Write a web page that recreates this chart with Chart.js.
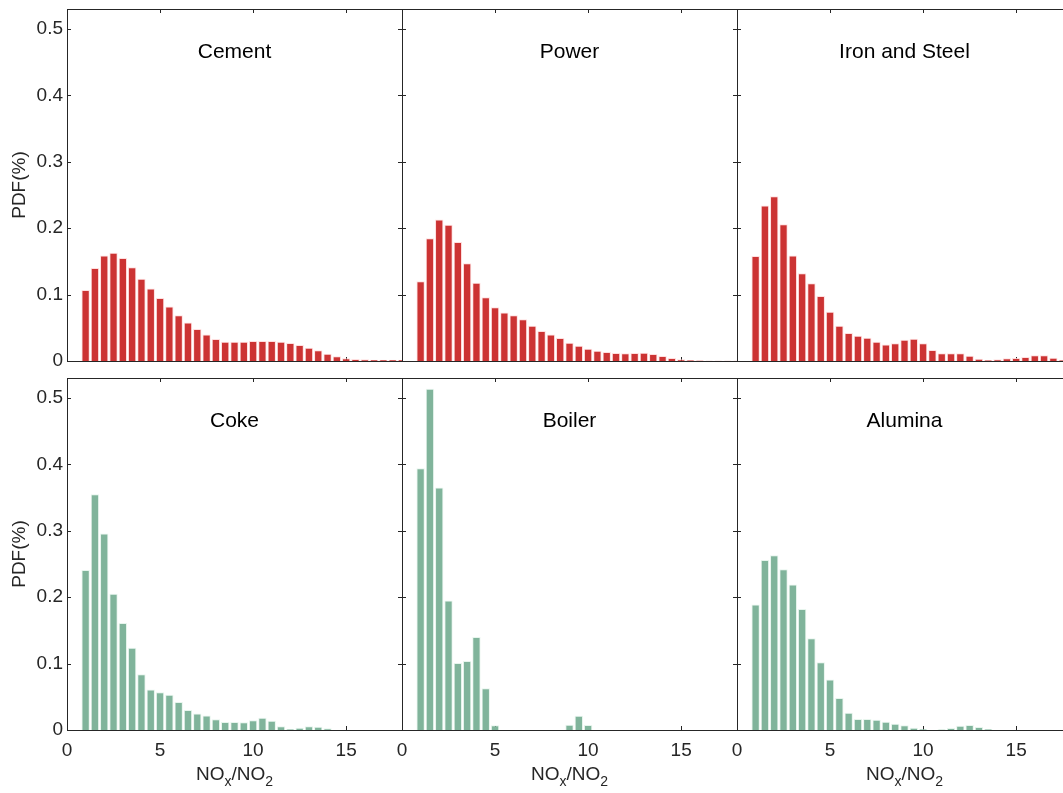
<!DOCTYPE html>
<html>
<head>
<meta charset="utf-8">
<script src="https://cdn.jsdelivr.net/npm/chart.js@4.4.1/dist/chart.umd.min.js"></script>
<style>
html, body { margin: 0; padding: 0; background: #fff; overflow: hidden; width: 1063px; height: 793px; }
canvas { position: absolute; }
</style>
</head>
<body>
<canvas id="p0"></canvas>
<canvas id="p1"></canvas>
<canvas id="p2"></canvas>
<canvas id="p3"></canvas>
<canvas id="p4"></canvas>
<canvas id="p5"></canvas>
<script>
// bin centres of the NOx/NO2 histograms (width 0.5)
const xBins = [1, 1.5, 2, 2.5, 3, 3.5, 4, 4.5, 5, 5.5, 6, 6.5, 7, 7.5, 8, 8.5, 9, 9.5, 10,
    10.5, 11, 11.5, 12, 12.5, 13, 13.5, 14, 14.5, 15, 15.5, 16, 16.5, 17, 17.5, 18];
const xTicks = [0, 5, 10, 15];
const yTicks = [0, 0.1, 0.2, 0.3, 0.4, 0.5];
const panelNames = ['Cement', 'Power', 'Iron and Steel', 'Coke', 'Boiler', 'Alumina'];

const cement = [0.107, 0.140, 0.159, 0.163, 0.155, 0.141, 0.124, 0.109, 0.095, 0.082, 0.069, 0.058,
    0.048, 0.040, 0.033, 0.029, 0.029, 0.029, 0.030, 0.030, 0.030, 0.029, 0.027, 0.024, 0.020,
    0.016, 0.011, 0.007, 0.004, 0.003, 0.0025, 0.002, 0.002, 0.002, 0.002];
const power = [0.120, 0.185, 0.213, 0.205, 0.179, 0.147, 0.118, 0.096, 0.081, 0.073, 0.069, 0.063,
    0.053, 0.045, 0.040, 0.0346, 0.0276, 0.023, 0.0186, 0.0156, 0.0136, 0.012, 0.0115, 0.012,
    0.0125, 0.0105, 0.0075, 0.0045, 0.0025, 0.0015, 0.001, 0.0005, 0.0005, 0.0005, 0.0005];
const ironSteel = [0.158, 0.234, 0.248, 0.206, 0.159, 0.132, 0.117, 0.098, 0.074, 0.053, 0.042,
    0.038, 0.035, 0.029, 0.025, 0.0266, 0.032, 0.0336, 0.0266, 0.0166, 0.0115, 0.0115, 0.0115,
    0.008, 0.0035, 0.0015, 0.0025, 0.004, 0.0045, 0.006, 0.0085, 0.0085, 0.005, 0.0015, 0];
const coke = [0.241, 0.355, 0.296, 0.205, 0.161, 0.124, 0.084, 0.061, 0.057, 0.053, 0.042, 0.030,
    0.025, 0.022, 0.016, 0.012, 0.012, 0.0115, 0.0145, 0.0186, 0.014, 0.0055, 0.0015, 0.0035,
    0.0055, 0.005, 0.0025, 0, 0, 0, 0, 0, 0, 0, 0];
const boiler = [0.394, 0.514, 0.365, 0.195, 0.101, 0.104, 0.140, 0.063, 0.007, 0, 0, 0, 0, 0, 0, 0,
    0.008, 0.0215, 0.0075, 0, 0, 0, 0, 0, 0, 0, 0, 0, 0, 0, 0, 0, 0, 0, 0];
const alumina = [0.189, 0.256, 0.263, 0.242, 0.219, 0.182, 0.138, 0.102, 0.076, 0.048, 0.026,
    0.0166, 0.0166, 0.0156, 0.0125, 0.0095, 0.007, 0.0035, 0.0015, 0, 0.001, 0.003, 0.0065,
    0.0075, 0.0045, 0.0015, 0, 0, 0, 0, 0, 0, 0, 0, 0];

const red = '#CC3333';
const green = '#80B49B';
const axisColor = '#262626';
const fontName = "'Helvetica Neue', Helvetica, 'Liberation Sans', Arial, sans-serif";

const colLeft = [67, 402, 737];
const rowTop = [9, 378];
const plotW = 335, plotH = 352;

// box around each axes with inward ticks (under the bars), then title and x label on top
const framePlugin = {
    id: 'frame',
    beforeDatasetsDraw(chart) {
        const ctx = chart.ctx;
        const a = chart.chartArea;
        const x = chart.scales.x, y = chart.scales.y;
        ctx.save();
        ctx.strokeStyle = axisColor;
        ctx.lineWidth = 1;
        ctx.beginPath();
        ctx.rect(a.left + 0.5, a.top + 0.5, a.right - a.left, a.bottom - a.top);
        for (const v of xTicks) {
            const px = Math.round(x.getPixelForValue(v)) + 0.5;
            ctx.moveTo(px, a.bottom); ctx.lineTo(px, a.bottom - 4);
            ctx.moveTo(px, a.top); ctx.lineTo(px, a.top + 4);
        }
        for (const v of yTicks) {
            const py = Math.round(y.getPixelForValue(v)) + 0.5;
            ctx.moveTo(a.left, py); ctx.lineTo(a.left + 4, py);
            ctx.moveTo(a.right, py); ctx.lineTo(a.right - 4, py);
        }
        ctx.stroke();
        ctx.restore();
    },
    afterDatasetsDraw(chart, args, opts) {
        const ctx = chart.ctx;
        const a = chart.chartArea;
        const cx = (a.left + a.right) / 2;
        ctx.save();
        ctx.fillStyle = '#000';
        ctx.font = '21px ' + fontName;
        ctx.textAlign = 'center';
        ctx.textBaseline = 'alphabetic';
        ctx.fillText(opts.title, cx, a.top + 49);

        if (opts.xLabel) {
            // NO_x/NO_2 with subscripts
            const big = '19px ' + fontName, small = '14px ' + fontName;
            const parts = [['NO', big, 0], ['x', small, 6], ['/NO', big, 0], ['2', small, 6]];
            let total = 0;
            for (const p of parts) { ctx.font = p[1]; total += ctx.measureText(p[0]).width; }
            let px = cx - total / 2;
            const base = a.bottom + 50;
            ctx.textAlign = 'left';
            ctx.fillStyle = axisColor;
            for (const p of parts) {
                ctx.font = p[1];
                ctx.fillText(p[0], px, base + p[2]);
                px += ctx.measureText(p[0]).width;
            }
        }
        ctx.restore();
    }
};

function makePanel(idx, values, color, edge) {
    const col = idx % 3, row = Math.floor(idx / 3);
    const showY = col === 0, showX = row === 1;
    const yW = showY ? 67 : 0;
    const xH = showX ? 63 : 0;
    const padL = showY ? 0 : 20, padR = 20, padT = 9, padB = showX ? 0 : 14;
    const canvas = document.getElementById('p' + idx);
    const w = padL + yW + plotW + padR;
    const h = padT + plotH + xH + padB;
    canvas.width = w; canvas.height = h;
    canvas.style.width = w + 'px'; canvas.style.height = h + 'px';
    canvas.style.left = (colLeft[col] - yW - padL) + 'px';
    canvas.style.top = (rowTop[row] - padT) + 'px';

    return new Chart(canvas, {
        type: 'bar',
        data: {
            datasets: [{
                data: xBins.map((b, i) => ({ x: b, y: values[i] })),
                backgroundColor: color,
                borderColor: edge,
                borderWidth: 1,
                borderSkipped: 'start',
                barPercentage: 0.9,
                categoryPercentage: 1,
                clip: 0
            }]
        },
        options: {
            responsive: false,
            animation: false,
            devicePixelRatio: 1,
            layout: { padding: { left: padL, right: padR, top: padT, bottom: padB } },
            plugins: {
                legend: { display: false },
                tooltip: { enabled: false },
                frame: { title: panelNames[idx], xLabel: showX }
            },
            scales: {
                x: {
                    type: 'linear',
                    min: 0,
                    max: 18,
                    offset: false,
                    display: showX,
                    grid: { display: false, drawTicks: false },
                    border: { display: false },
                    ticks: {
                        color: axisColor,
                        font: { family: fontName, size: 19 },
                        padding: 9,
                        maxRotation: 0,
                        callback: v => String(v)
                    },
                    afterBuildTicks: s => { s.ticks = xTicks.map(v => ({ value: v })); },
                    afterFit: s => { s.height = xH; s.paddingLeft = 0; s.paddingRight = 0; }
                },
                y: {
                    min: 0,
                    max: 0.53,
                    display: showY,
                    grid: { display: false, drawTicks: false },
                    border: { display: false },
                    ticks: {
                        color: axisColor,
                        font: { family: fontName, size: 19 },
                        padding: 4,
                        callback: v => String(+v.toFixed(1))
                    },
                    title: {
                        display: true,
                        text: 'PDF(%)',
                        color: axisColor,
                        font: { family: fontName, size: 19 },
                        padding: { top: 8, bottom: 0 }
                    },
                    afterBuildTicks: s => { s.ticks = yTicks.map(v => ({ value: v })); },
                    afterFit: s => { s.width = yW; s.paddingTop = 0; s.paddingBottom = 0; }
                }
            }
        },
        plugins: [framePlugin]
    });
}

const redEdge = 'rgba(255, 215, 215, 0.8)';
const greenEdge = 'rgba(225, 242, 232, 0.8)';
makePanel(0, cement, red, redEdge);
makePanel(1, power, red, redEdge);
makePanel(2, ironSteel, red, redEdge);
makePanel(3, coke, green, greenEdge);
makePanel(4, boiler, green, greenEdge);
makePanel(5, alumina, green, greenEdge);
</script>
</body>
</html>
